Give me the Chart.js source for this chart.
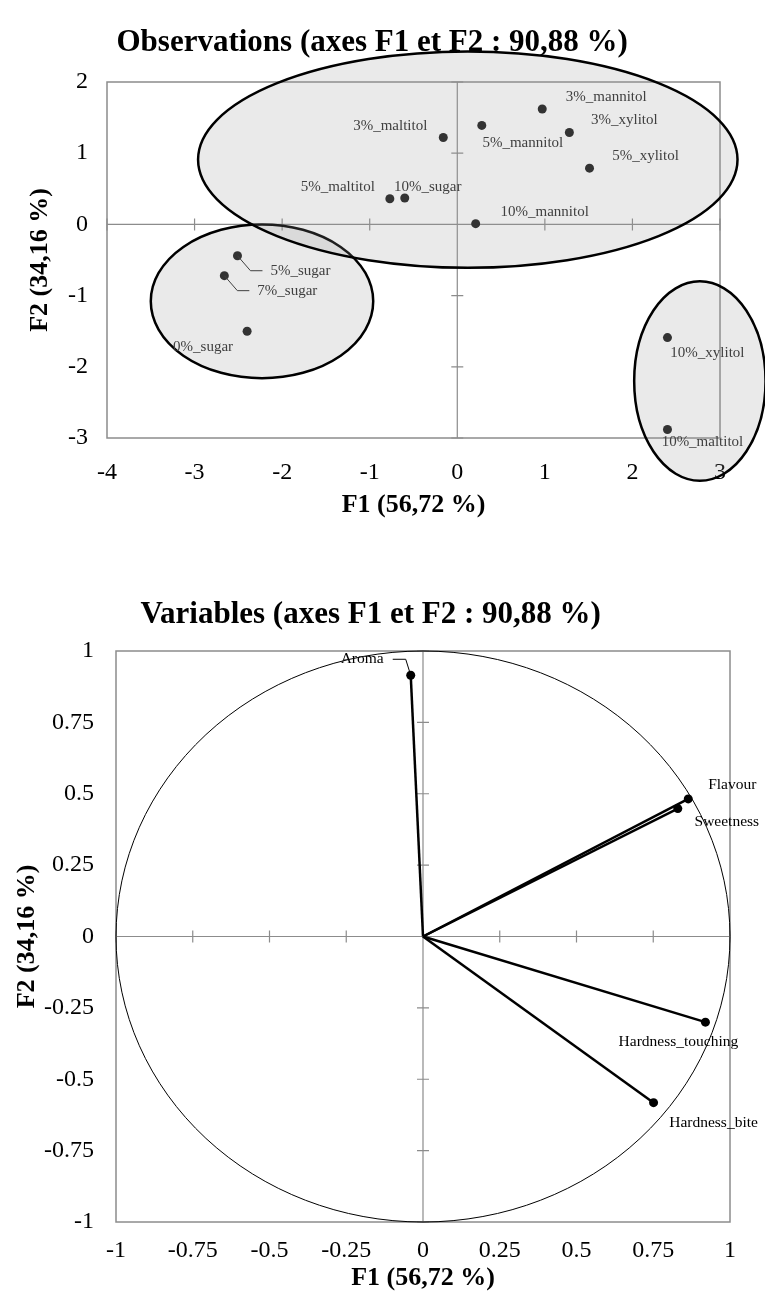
<!DOCTYPE html>
<html><head><meta charset="utf-8">
<script src="https://cdn.jsdelivr.net/npm/chart.js@4"></script>
<style>
html,body{margin:0;padding:0;background:#fff;}
canvas{position:absolute;left:0;}
</style></head><body>
<canvas id="c1" width="765" height="560" style="top:0"></canvas>
<canvas id="c2" width="765" height="740" style="top:560px"></canvas>
<script>
// ---------- Observations chart data ----------
const obsNames = ['3%_mannitol','3%_maltitol','5%_mannitol','3%_xylitol','5%_xylitol','5%_maltitol','10%_sugar','10%_mannitol','5%_sugar','7%_sugar','0%_sugar','10%_xylitol','10%_maltitol'];
const obsF1 = [0.97,-0.16,0.28,1.28,1.51,-0.77,-0.60,0.21,-2.51,-2.66,-2.40,2.40,2.40];
const obsF2 = [1.62,1.22,1.39,1.29,0.79,0.36,0.37,0.01,-0.44,-0.72,-1.50,-1.59,-2.88];
const obsXTicks = [-4,-3,-2,-1,0,1,2,3];
const obsYTicks = [-3,-2,-1,0,1,2];
// group ellipses (drawn in this order)
const groupCX = [-2.23, 2.77, 0.12];
const groupCY = [-1.08, -2.20, 0.91];
const groupRX = [1.27, 0.75, 3.08];
const groupRY = [1.08, 1.40, 1.52];

// ---------- Variables chart data ----------
const varNames = ['Aroma','Flavour','Sweetness','Hardness_touching','Hardness_bite'];
const varF1 = [-0.04, 0.864, 0.83, 0.92, 0.751];
const varF2 = [0.915, 0.482, 0.448, -0.30, -0.582];
const varTicks = [-1,-0.75,-0.5,-0.25,0,0.25,0.5,0.75,1];

// ---------- label placement (pixel offsets, layout only) ----------
const obsLabelOff = [[64,-12],[-53,-11],[41,18],[55,-12],[56,-12],[-52,-12],[23,-11],[69,-12],[null],[null],[-44,16],[40,15],[35,13]];
const varLabelOff = [[null],[44,-14],[49,13],[-27,20],[60,20]];

const FONT = 'Liberation Serif, Times New Roman, serif';
const GRID = '#8c8c8c';

function framePlugin(xT, yT){
  return {id:'frame', beforeDatasetsDraw(chart){
    const {ctx, chartArea:a, scales:{x,y}} = chart;
    ctx.save();
    ctx.strokeStyle = GRID; ctx.lineWidth = 1.5;
    ctx.strokeRect(a.left, a.top, a.right-a.left, a.bottom-a.top);
    const x0 = x.getPixelForValue(0), y0 = y.getPixelForValue(0);
    ctx.lineWidth = 1.2;
    ctx.beginPath();
    ctx.moveTo(x0,a.top); ctx.lineTo(x0,a.bottom);
    ctx.moveTo(a.left,y0); ctx.lineTo(a.right,y0);
    xT.forEach(v=>{const p=x.getPixelForValue(v); ctx.moveTo(p,y0-6); ctx.lineTo(p,y0+6);});
    yT.forEach(v=>{const p=y.getPixelForValue(v); ctx.moveTo(x0-6,p); ctx.lineTo(x0+6,p);});
    ctx.stroke();
    ctx.restore();
  }};
}

function scaleOpts(ticksArr, min, max, title, tickPad, fixed, isX){
  return {
    type:'linear', min, max,
    afterBuildTicks: s => { s.ticks = ticksArr.map(v=>({value:v})); },
    grid:{display:false, drawTicks:false},
    border:{display:false},
    ticks:{font:{family:FONT,size:24}, color:'#000', padding:tickPad, maxRotation:0, autoSkip:false,
           callback: v => String(v)},
    title:{display:true, text:title, color:'#000', padding:0,
           font:{family:FONT, size:26, weight:'bold', lineHeight:1.2}},
    afterFit: s => { if (isX) s.height = fixed; else s.width = fixed; }
  };
}

// ---------- Chart 1 ----------
const ellipsePlugin = {id:'ellipses', beforeDatasetsDraw(chart){
  const {ctx, scales:{x,y}} = chart;
  ctx.save();
  for (let i=0;i<groupCX.length;i++){
    const cx = x.getPixelForValue(groupCX[i]), cy = y.getPixelForValue(groupCY[i]);
    const rx = Math.abs(x.getPixelForValue(groupCX[i]+groupRX[i]) - cx);
    const ry = Math.abs(y.getPixelForValue(groupCY[i]+groupRY[i]) - cy);
    ctx.beginPath();
    ctx.ellipse(cx, cy, rx, ry, 0, 0, Math.PI*2);
    ctx.fillStyle = 'rgba(150,150,150,0.2)';
    ctx.fill();
    ctx.lineWidth = 2.5; ctx.strokeStyle = '#000';
    ctx.stroke();
  }
  ctx.restore();
}};

const obsLabelPlugin = {id:'obsLabels', afterDatasetsDraw(chart){
  const {ctx} = chart;
  const pts = chart.getDatasetMeta(0).data;
  ctx.save();
  ctx.font = '15px ' + FONT;
  ctx.fillStyle = '#404040';
  ctx.textBaseline = 'middle';
  obsNames.forEach((n,i)=>{
    const p = pts[i];
    const off = obsLabelOff[i];
    if (off[0] === null){
      ctx.strokeStyle = '#404040'; ctx.lineWidth = 1;
      ctx.beginPath();
      ctx.moveTo(p.x, p.y); ctx.lineTo(p.x+13, p.y+15); ctx.lineTo(p.x+25, p.y+15);
      ctx.stroke();
      ctx.textAlign = 'left';
      ctx.fillText(n, p.x+33, p.y+15);
    } else {
      ctx.textAlign = 'center';
      ctx.fillText(n, p.x+off[0], p.y+off[1]);
    }
  });
  ctx.restore();
}};

new Chart(document.getElementById('c1'), {
  type:'scatter',
  data:{datasets:[{
    data: obsF1.map((v,i)=>({x:v, y:obsF2[i]})),
    pointRadius:4.5, pointBackgroundColor:'#333', pointBorderWidth:0, pointBorderColor:'#333'
  }]},
  options:{
    responsive:false, animation:false, devicePixelRatio:1,
    layout:{padding:{left:24.4, right:45, top:0, bottom:39.4}},
    plugins:{
      legend:{display:false}, tooltip:{enabled:false},
      title:{display:true, text:'Observations (axes F1 et F2 : 90,88 %)', color:'#000',
             font:{family:FONT, size:31, weight:'bold', lineHeight:1.2}, padding:{top:24.4, bottom:20.4}}
    },
    scales:{
      x: scaleOpts(obsXTicks, -4, 3, 'F1 (56,72 %)', 20, 82.6, true),
      y: scaleOpts(obsYTicks, -3, 2, 'F2 (34,16 %)', 19, 82.6, false)
    }
  },
  plugins:[framePlugin(obsXTicks, obsYTicks), ellipsePlugin, obsLabelPlugin]
});

// ---------- Chart 2 ----------
const circlePlugin = {id:'circle', beforeDatasetsDraw(chart){
  const {ctx, scales:{x,y}} = chart;
  const cx = x.getPixelForValue(0), cy = y.getPixelForValue(0);
  const rx = x.getPixelForValue(1) - cx, ry = cy - y.getPixelForValue(1);
  ctx.save();
  ctx.beginPath(); ctx.ellipse(cx, cy, rx, ry, 0, 0, Math.PI*2);
  ctx.strokeStyle = '#000'; ctx.lineWidth = 1; ctx.stroke();
  ctx.restore();
}};

const varLabelPlugin = {id:'varLabels', afterDatasetsDraw(chart){
  const {ctx} = chart;
  ctx.save();
  ctx.font = '15.5px ' + FONT;
  ctx.fillStyle = '#000';
  ctx.textBaseline = 'middle';
  varNames.forEach((n,i)=>{
    const p = chart.getDatasetMeta(i).data[1];
    const off = varLabelOff[i];
    if (off[0] === null){
      ctx.strokeStyle = '#000'; ctx.lineWidth = 1;
      ctx.beginPath();
      ctx.moveTo(p.x, p.y); ctx.lineTo(p.x-5, p.y-16); ctx.lineTo(p.x-18, p.y-16);
      ctx.stroke();
      ctx.textAlign = 'right';
      ctx.fillText(n, p.x-27, p.y-16);
    } else {
      ctx.textAlign = 'center';
      ctx.fillText(n, p.x+off[0], p.y+off[1]);
    }
  });
  ctx.restore();
}};

new Chart(document.getElementById('c2'), {
  type:'scatter',
  data:{datasets: varNames.map((n,i)=>({
    data:[{x:0,y:0},{x:varF1[i], y:varF2[i]}],
    showLine:true, borderColor:'#000', borderWidth:2.5,
    pointRadius:[0,4.5], pointBackgroundColor:'#000', pointBorderWidth:0
  }))},
  options:{
    responsive:false, animation:false, devicePixelRatio:1,
    layout:{padding:{left:11.4, right:35, top:0, bottom:6.4}},
    plugins:{
      legend:{display:false}, tooltip:{enabled:false},
      title:{display:true, text:'Variables (axes F1 et F2 : 90,88 %)', color:'#000',
             font:{family:FONT, size:31, weight:'bold', lineHeight:1.2}, padding:{top:36.4, bottom:17.4}}
    },
    scales:{
      x: scaleOpts(varTicks, -1, 1, 'F1 (56,72 %)', 14, 71.6, true),
      y: scaleOpts(varTicks, -1, 1, 'F2 (34,16 %)', 22, 104.6, false)
    }
  },
  plugins:[framePlugin(varTicks, varTicks), circlePlugin, varLabelPlugin]
});
</script>
</body></html>
